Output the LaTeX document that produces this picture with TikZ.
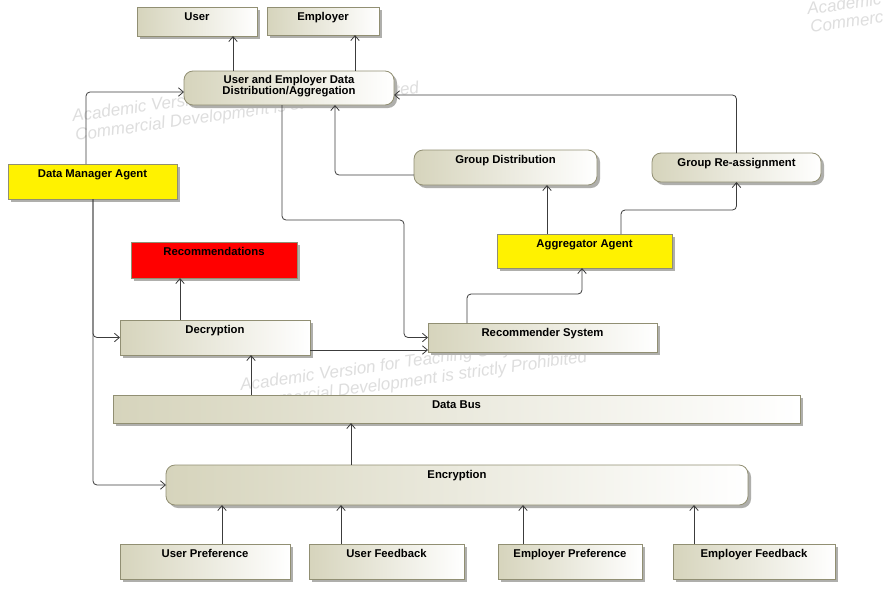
\documentclass[tikz,border=0pt]{standalone}
\usepackage{fontspec}
\setmainfont{Liberation Sans}
\usetikzlibrary{arrows.meta,shadows}
\definecolor{tanL}{RGB}{214,212,188}
\definecolor{bordc}{RGB}{145,143,115}
\definecolor{shadc}{RGB}{175,175,172}
\definecolor{linec}{RGB}{60,60,60}
\definecolor{wmc}{RGB}{222,222,222}
\begin{document}
\begin{tikzpicture}[x=1pt,y=-1pt,
  boxbase/.style={draw=bordc, line width=0.8pt, inner sep=0pt, outer sep=0pt,
    general shadow={fill=shadc, shadow xshift=3pt, shadow yshift=-3pt}},
  tanbox/.style={boxbase, left color=tanL, right color=white},
  rbox/.style={tanbox, rounded corners=9pt},
  ybox/.style={boxbase, fill=yellow},
  redbox/.style={boxbase, fill=red},
  lbl/.style={anchor=base, yshift=-13pt, font=\bfseries\fontsize{11.3}{11}\selectfont, inner sep=0pt},
  lbltwo/.style={anchor=center, yshift=2pt, align=center, font=\bfseries\fontsize{11.3}{11}\selectfont, inner sep=0pt},
  conn/.style={draw=linec, line width=0.8pt, rounded corners=4pt, -{Straight Barb[length=5pt,width=8.5pt]}},
  wm/.style={anchor=base west, rotate=8, text=wmc, font=\itshape\fontsize{17}{19}\selectfont, inner sep=0pt}
]
\useasboundingbox (0,0) rectangle (883,592);
\fill[white] (0,0) rectangle (883,592);
\begin{scope}
\clip (0,0) rectangle (883,592);
% watermarks
\node[wm] (wa1) at (73,122) {Academic Version for Teaching Only};
\node[wm] (wa2) at (76,141) {Commercial Development is strictly Prohibited};
\node[wm] (wb1) at (241,391) {Academic Version for Teaching Only};
\node[wm] (wb2) at (244,410) {Commercial Development is strictly Prohibited};
\node[wm] (wc1) at (808,15) {Academic Version for Teaching Only};
\node[wm] (wc2) at (811,33) {Commercial Development is strictly Prohibited};
\end{scope}

% nodes
\node[tanbox, minimum width=120pt, minimum height=29pt, label={[lbl]north:User}] (user) at (197,21.5) {};
\node[tanbox, minimum width=112pt, minimum height=28pt, label={[lbl]north:Employer}] (employer) at (323,21) {};
\node[rbox, minimum width=210pt, minimum height=34pt, label={[lbltwo]center:User and Employer Data\\Distribution/Aggregation}] (ued) at (289,88) {};
\node[ybox, minimum width=169pt, minimum height=35pt, label={[lbl]north:Data Manager Agent}] (dma) at (92.5,181.5) {};
\node[rbox, minimum width=183pt, minimum height=35pt, label={[lbl]north:Group Distribution}] (gd) at (505.5,167.5) {};
\node[rbox, minimum width=169pt, minimum height=29pt, label={[lbl]north:Group Re-assignment}] (gr) at (736.5,167.5) {};
\node[ybox, minimum width=175pt, minimum height=34pt, label={[lbl]north:Aggregator Agent}] (agg) at (584.5,251) {};
\node[redbox, minimum width=166pt, minimum height=36pt, label={[lbl]north:Recommendations}] (rec) at (214,260) {};
\node[tanbox, minimum width=190pt, minimum height=35pt, label={[lbl]north:Decryption}] (dec) at (215,337.5) {};
\node[tanbox, minimum width=229pt, minimum height=29pt, label={[lbl]north:Recommender System}] (rs) at (542.5,337.5) {};
\node[tanbox, minimum width=687pt, minimum height=28pt, label={[lbl]north:Data Bus}] (bus) at (456.5,409) {};
\node[rbox, minimum width=582pt, minimum height=40pt, label={[lbl]north:Encryption}] (enc) at (457,485) {};
\node[tanbox, minimum width=170pt, minimum height=35pt, label={[lbl]north:User Preference}] (up) at (205,561.5) {};
\node[tanbox, minimum width=155pt, minimum height=35pt, label={[lbl]north:User Feedback}] (uf) at (386.5,561.5) {};
\node[tanbox, minimum width=144pt, minimum height=35pt, label={[lbl]north:Employer Preference}] (ep) at (570,561.5) {};
\node[tanbox, minimum width=162pt, minimum height=35pt, label={[lbl]north:Employer Feedback}] (ef) at (754,561.5) {};

% connectors
\draw[conn] (ued.north -| 233,0) -- (user.south -| 233,0);
\draw[conn] (ued.north -| 355,0) -- (employer.south -| 355,0);
\draw[conn] (dma.north -| 86,0) |- (ued.west |- 0,92);
\draw[conn] (dma.south -| 93,0) |- (dec.west);
\draw[conn] (dma.south -| 93,0) |- (enc.west);
\draw[conn] (ued.south -| 282,0) |- (404,220) |- (rs.west);
\draw[conn] (gd.west |- 0,175) -| (ued.south -| 335,0);
\draw[conn] (agg.north -| 547,0) -- (gd.south -| 547,0);
\draw[conn] (agg.north -| 621,0) -- (621,210) -| (gr.south);
\draw[conn] (gr.north) |- (ued.east |- 0,95);
\draw[conn] (rs.north -| 467,0) -- (467,294) -| (agg.south -| 582,0);
\draw[conn] (dec.north -| 180,0) -- (rec.south -| 180,0);
\draw[conn] (dec.east |- 0,350) -- (rs.west |- 0,350);
\draw[conn] (bus.north -| 251,0) -- (dec.south -| 251,0);
\draw[conn] (enc.north -| 351,0) -- (bus.south -| 351,0);
\draw[conn] (up.north -| 222,0) -- (enc.south -| 222,0);
\draw[conn] (uf.north -| 341,0) -- (enc.south -| 341,0);
\draw[conn] (ep.north -| 523,0) -- (enc.south -| 523,0);
\draw[conn] (ef.north -| 694,0) -- (enc.south -| 694,0);
\end{tikzpicture}
\end{document}
